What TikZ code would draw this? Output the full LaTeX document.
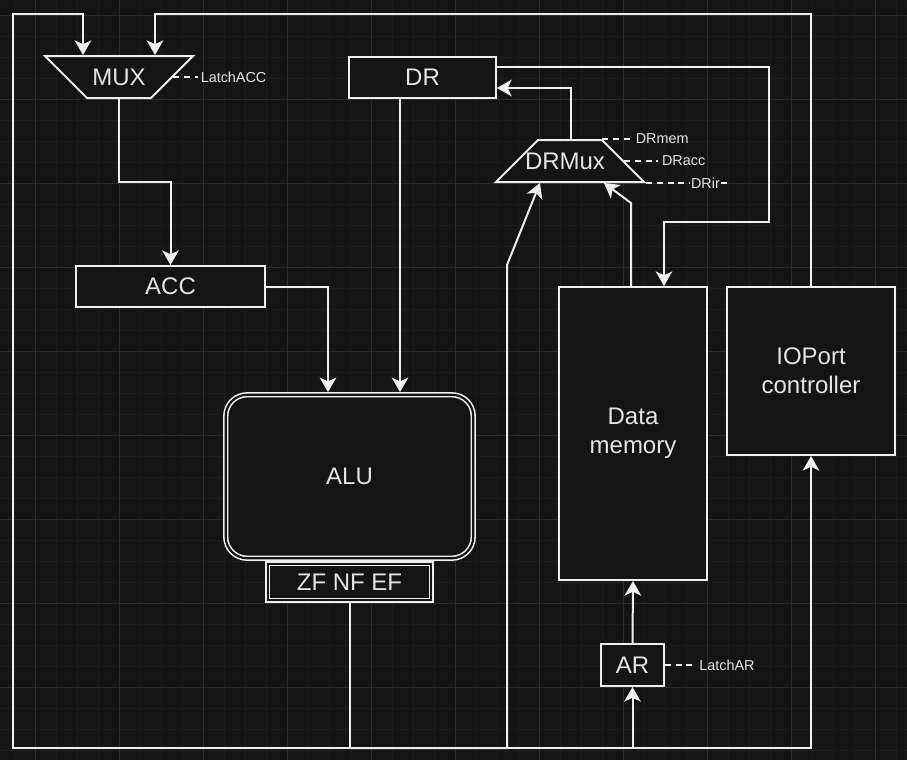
\documentclass[tikz,border=0pt]{standalone}
\usepackage{fontspec}
\setmainfont{Liberation Sans}
\usetikzlibrary{arrows.meta,shapes.geometric}
\definecolor{bgcol}{HTML}{141414}
\definecolor{gridminor}{HTML}{1C1C1C}
\definecolor{gridmajor}{HTML}{2B2B2B}
\definecolor{lncol}{HTML}{EEEEEE}
\definecolor{txcol}{HTML}{E4E4E4}
\begin{document}
\begin{tikzpicture}[x=0.75pt,y=-0.75pt,
    box/.style={draw=lncol,fill=bgcol,line width=1.5pt,text=txcol,font=\fontsize{18}{22}\selectfont,align=center,inner sep=0pt},
    dbl/.style={box,double=bgcol,double distance=1.6pt,line width=1.2pt,outer sep=2pt},
    trap/.style={box,trapezium,trapezium stretches body=true,trapezium left angle=45,trapezium right angle=45,minimum width=111pt},
    every label/.style={text=txcol,font=\fontsize{18}{22}\selectfont,inner sep=0pt},
    wire/.style={draw=lncol,line width=1.5pt},
    arr/.style={wire,-{Stealth[length=11pt,width=12.5pt,inset=3pt]}},
    ctl/.style={wire,dash pattern=on 4.5pt off 3.5pt},
    sig/.style={text=txcol,font=\fontsize{10.8}{13}\selectfont,inner sep=1pt}]
  \useasboundingbox (0,0) rectangle (907,760);
  \fill[bgcol] (0,0) rectangle (907,760);
  \draw[gridminor,line width=0.6pt,step=15.75pt,shift={(14,15)}] (-14,-15) grid (893,745);
  \draw[gridmajor,line width=0.6pt,step=63pt,shift={(35,15)}] (-35,-15) grid (872,745);
  % blocks
  \node[trap,shape border rotate=180,label=center:MUX] (mux) at (119,77) {\rule{0pt}{31.5pt}};
  \node[box,minimum width=110.25pt,minimum height=30.75pt] (dr) at (422.5,77.5) {DR};
  \node[trap,label={[xshift=-3.75pt]center:DRMux}] (drmux) at (570,161) {\rule{0pt}{31.5pt}};
  \node[box,minimum width=141.75pt,minimum height=30.75pt] (acc) at (170.5,286.5) {ACC};
  \node[dbl,rounded corners=16pt,minimum width=185.6pt,minimum height=122.6pt] (alu) at (349.5,476.5) {ALU};
  \node[dbl,minimum width=122.6pt,minimum height=27.4pt] (flags) at (349.5,582) {ZF NF EF};
  \node[box,minimum width=111pt,minimum height=219.75pt] (mem) at (633,433.5) {Data\\memory};
  \node[box,minimum width=126pt,minimum height=126pt] (io) at (811,371) {IOPort\\controller};
  \node[box,minimum width=47.25pt,minimum height=31.5pt] (ar) at (632.5,665) {AR};
  % bus from the flags
  \coordinate (bus) at (flags.south |- 0,748);
  \draw[arr] (flags.south) -- (bus) -| (13,14) -| (mux.north -| 83,0);
  \draw[arr] (bus) -| (507,265) -- (drmux.south -| 540,0);
  \draw[arr] (bus) -| (ar.south);
  \draw[arr] (bus) -| (io.south);
  % data paths
  \draw[arr] (io.north) -- (io.north |- 0,14) -| (mux.north -| 155,0);
  \draw[arr] (mux.south) |- (acc.north |- 0,182) -- (acc.north);
  \draw[arr] (acc.east) -| (alu.north -| 328,0);
  \draw[arr] (dr.south -| 400,0) -- (alu.north -| 400,0);
  \draw[arr] (drmux.north -| 571,0) |- (dr.east |- 0,88);
  \draw[arr] (dr.east |- 0,67) -| (769,222) -| (mem.north -| 664,0);
  \draw[arr] (mem.north -| 631,0) -- (631,203) -- (drmux.south -| 604,0);
  \draw[arr] (ar.north) -- (mem.south);
  % control signals
  \draw[ctl] (mux.east) -- ++(25,0) node[sig,anchor=west] (latchacc) {LatchACC};
  \draw[ctl] (drmux.top right corner) -- ++(31,0) node[sig,anchor=west] (drmem) {DRmem};
  \draw[ctl] (drmux.east) -- ++(34,0) node[sig,anchor=west,inner sep=2pt] (dracc) {DRacc};
  \draw[ctl] (drmux.bottom right corner) -- ++(82,0) node[sig,pos=0.72,fill=bgcol] (drir) {DRir};
  \draw[ctl] (ar.east) -- ++(32,0) node[sig,anchor=west] (latchar) {LatchAR};
\end{tikzpicture}
\end{document}
